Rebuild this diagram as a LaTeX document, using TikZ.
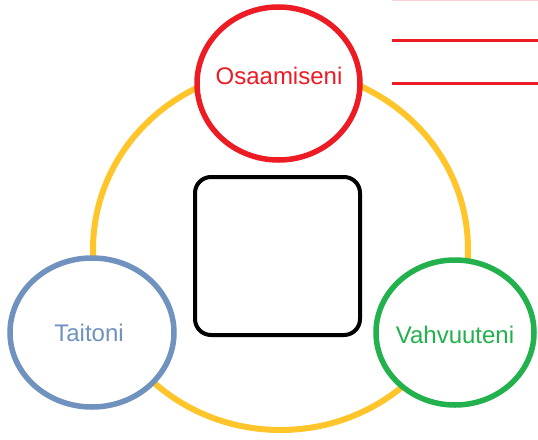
\documentclass[tikz,border=0pt]{standalone}
\usepackage{fontspec}
\setmainfont{Liberation Sans}
\usetikzlibrary{shapes.geometric}
\definecolor{paintred}{HTML}{ED1C24}
\definecolor{paintgold}{HTML}{FFC52A}
\definecolor{paintblue}{HTML}{7092BE}
\definecolor{paintgreen}{HTML}{22B14C}
\tikzset{
    ring/.style={ellipse,draw=#1,fill=white,line width=5.5pt,inner sep=0pt},
    ringtext/.style={text=#1,font=\fontsize{24}{28}\selectfont,inner sep=0pt}
}
\begin{document}
\begin{tikzpicture}[x=1pt,y=-1pt]
        \useasboundingbox[fill=white] (0,0) rectangle (538,439);
        \draw[paintgold,line width=6pt] (280.5,249.5) ellipse[x radius=187.5,y radius=180.5];
        \draw[paintred!20,line width=1.5pt] (392,0.3) -- (538,0.3);
        \foreach \y in {40,83}{
            \draw[paintred,line width=3pt] (392,\y) -- (538,\y);
        }
        \draw[black,line width=4pt,rounded corners=16pt] (195,177) rectangle (360,335);
        \node[ring=paintred,minimum width=163pt,minimum height=153pt] (osaamiseni) at (278.5,83.5) {};
        \node[ring=paintblue,minimum width=164pt,minimum height=149pt] (taitoni) at (92,332.5) {};
        \node[ring=paintgreen,minimum width=158pt,minimum height=145pt] (vahvuuteni) at (455,332.5) {};
        \node[ringtext=paintred] (osaamisenitext) at (279,76) {Osaamiseni};
        \node[ringtext=paintblue] (taitonitext) at (89,333) {Taitoni};
        \node[ringtext=paintgreen] (vahvuutenitext) at (455,335) {Vahvuuteni};
    \end{tikzpicture}
\end{document}
